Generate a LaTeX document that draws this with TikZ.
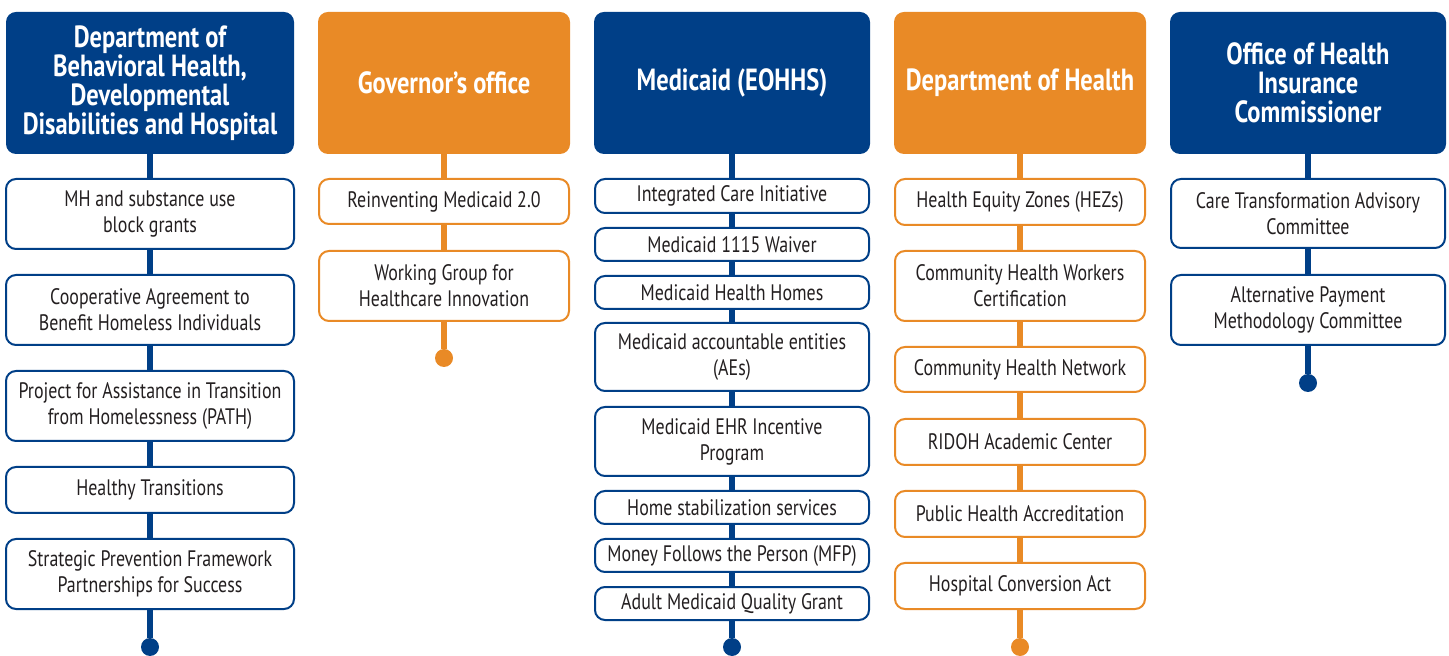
\documentclass[tikz,border=0pt]{standalone}
\usepackage{fontspec}
\setmainfont{PT Sans}[FakeStretch=0.8]

\definecolor{navy}{HTML}{003F87}
\definecolor{amber}{HTML}{E98A26}
\definecolor{ink}{HTML}{231F20}

\tikzset{
    head/.style={
           rectangle,
           rounded corners=5pt,
           text=white,
           align=center,
           inner sep=0pt,
           minimum height=71pt,
           font=\fontsize{15.3}{14.5}\selectfont\bfseries,
           },
    navyhead/.style={head, fill=navy, minimum width=#1},
    amberhead/.style={head, fill=amber, minimum width=#1},
    item/.style={
           rectangle,
           rounded corners=5pt,
           fill=white,
           line width=1pt,
           text=ink,
           align=center,
           inner sep=0pt,
           font=\fontsize{11.2}{13}\selectfont,
           },
    navyitem/.style={item, draw=navy, minimum width=#1},
    amberitem/.style={item, draw=amber, minimum width=#1},
    navyline/.style={draw=navy, line width=3pt},
    amberline/.style={draw=amber, line width=3pt},
    navyend/.style={circle, fill=navy, inner sep=0pt, minimum size=9pt},
    amberend/.style={circle, fill=amber, inner sep=0pt, minimum size=9pt},
}

\begin{document}
\begin{tikzpicture}[x=0.5pt,y=-0.5pt]
\useasboundingbox (0,0) rectangle (1449,656);

       % Behavioral Health
       \node[navyhead=144pt] (BHDD) at (150,83)
       {Department of\\Behavioral Health,\\Developmental\\Disabilities and Hospital};
       \node[navyitem=144pt, minimum height=35pt] (BHDD1) at (150,214) {MH and substance use\\block grants};
       \node[navyitem=144pt, minimum height=35pt] (BHDD2) at (150,310) {Cooperative Agreement to\\Benefit Homeless Individuals};
       \node[navyitem=144pt, minimum height=35pt] (BHDD3) at (150,406) {Project for Assistance in Transition\\from Homelessness (PATH)};
       \node[navyitem=144pt, minimum height=23pt] (BHDD4) at (150,490) {Healthy Transitions};
       \node[navyitem=144pt, minimum height=35pt] (BHDD5) at (150,574) {Strategic Prevention Framework\\Partnerships for Success};
       \node[navyend] (BHDDend) at (150,647) {};

       % Governor
       \node[amberhead=126pt] (GOV) at (444,83) {Governor’s office};
       \node[amberitem=125pt, minimum height=22.5pt] (GOV1) at (444,201.5) {Reinventing Medicaid 2.0};
       \node[amberitem=125pt, minimum height=35pt] (GOV2) at (444,286) {Working Group for\\Healthcare Innovation};
       \node[amberend] (GOVend) at (444,358) {};

       % Medicaid
       \node[navyhead=138pt] (MED) at (732,83) {Medicaid (EOHHS)};
       \node[navyitem=137pt, minimum height=17pt] (MED1) at (732,196) {Integrated Care Initiative};
       \node[navyitem=137pt, minimum height=16.5pt] (MED2) at (732,244.5) {Medicaid 1115 Waiver};
       \node[navyitem=137pt, minimum height=16.5pt] (MED3) at (732,292.5) {Medicaid Health Homes};
       \node[navyitem=137pt, minimum height=34pt] (MED4) at (732,357) {Medicaid accountable entities\\(AEs)};
       \node[navyitem=137pt, minimum height=34.5pt] (MED5) at (732,441.5) {Medicaid EHR Incentive\\Program};
       \node[navyitem=137pt, minimum height=16.5pt] (MED6) at (732,507.5) {Home stabilization services};
       \node[navyitem=137pt, minimum height=16.5pt] (MED7) at (732,555.5) {Money Follows the Person (MFP)};
       \node[navyitem=137pt, minimum height=16.5pt] (MED8) at (732,603.5) {Adult Medicaid Quality Grant};
       \node[navyend] (MEDend) at (732,647) {};

       % Health
       \node[amberhead=126pt] (DOH) at (1020,83) {Department of Health};
       \node[amberitem=125pt, minimum height=23pt] (DOH1) at (1020,202) {Health Equity Zones (HEZs)};
       \node[amberitem=125pt, minimum height=35pt] (DOH2) at (1020,286) {Community Health Workers\\Certification};
       \node[amberitem=125pt, minimum height=22.5pt] (DOH3) at (1020,369.5) {Community Health Network};
       \node[amberitem=125pt, minimum height=23pt] (DOH4) at (1020,442) {RIDOH Academic Center};
       \node[amberitem=125pt, minimum height=23pt] (DOH5) at (1020,514) {Public Health Accreditation};
       \node[amberitem=125pt, minimum height=23pt] (DOH6) at (1020,586) {Hospital Conversion Act};
       \node[amberend] (DOHend) at (1020,647) {};

       % Insurance Commissioner
       \node[navyhead=138pt] (OHIC) at (1308,83) {Office of Health\\Insurance\\Commissioner};
       \node[navyitem=137pt, minimum height=34.5pt] (OHIC1) at (1308,213.5) {Care Transformation Advisory\\Committee};
       \node[navyitem=137pt, minimum height=35pt] (OHIC2) at (1308,310) {Alternative Payment\\Methodology Committee};
       \node[navyend] (OHICend) at (1308,383) {};

       \foreach \a/\b in {BHDD/BHDD1,BHDD1/BHDD2,BHDD2/BHDD3,BHDD3/BHDD4,BHDD4/BHDD5,BHDD5/BHDDend,
                          MED/MED1,MED1/MED2,MED2/MED3,MED3/MED4,MED4/MED5,MED5/MED6,MED6/MED7,MED7/MED8,MED8/MEDend,
                          OHIC/OHIC1,OHIC1/OHIC2,OHIC2/OHICend}
              \draw[navyline] (\a) -- (\b);
       \foreach \a/\b in {GOV/GOV1,GOV1/GOV2,GOV2/GOVend,
                          DOH/DOH1,DOH1/DOH2,DOH2/DOH3,DOH3/DOH4,DOH4/DOH5,DOH5/DOH6,DOH6/DOHend}
              \draw[amberline] (\a) -- (\b);

\end{tikzpicture}
\end{document}
